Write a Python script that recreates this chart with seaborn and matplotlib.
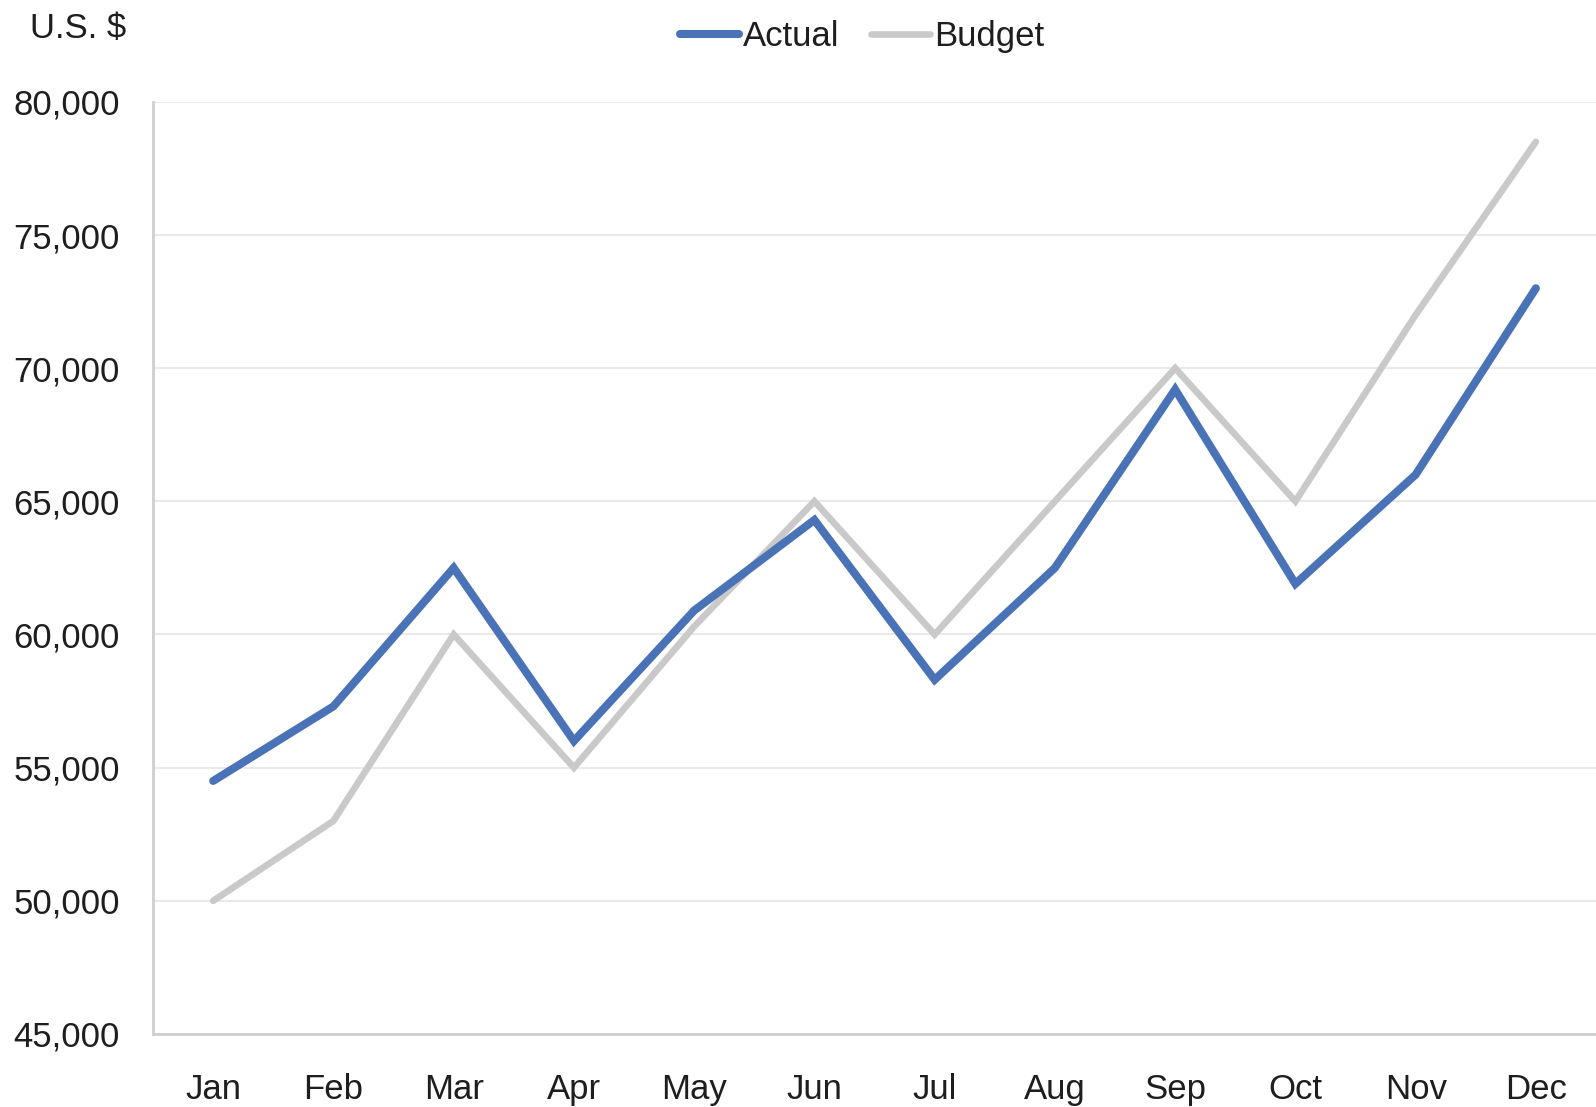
import matplotlib
matplotlib.use("Agg")
import matplotlib.pyplot as plt
import seaborn as sns
import pandas as pd
from matplotlib.ticker import FuncFormatter
from matplotlib.lines import Line2D

months = ["Jan", "Feb", "Mar", "Apr", "May", "Jun", "Jul", "Aug", "Sep", "Oct", "Nov", "Dec"]
actual = [54500, 57300, 62500, 56000, 60900, 64300, 58300, 62500, 69200, 61900, 66000, 73000]
budget = [50000, 53000, 60000, 55000, 60300, 65000, 60000, 65000, 70000, 65000, 72000, 78500]
series_names = ["Actual", "Budget"]
y_ticks = [45000, 50000, 55000, 60000, 65000, 70000, 75000, 80000]

sns.set_theme(style="white")
plt.rcParams["font.family"] = ["Liberation Sans", "DejaVu Sans"]

df = pd.DataFrame({
    "Month": months * 2,
    "x": list(range(len(months))) * 2,
    "Value": actual + budget,
    "Series": [series_names[0]] * len(months) + [series_names[1]] * len(months),
})

colors = {"Actual": "#4a73b7", "Budget": "#c9c9c9"}
widths = {"Actual": 5.8, "Budget": 4.8}

fig = plt.figure(figsize=(15.96, 11.07), dpi=100)
ax = fig.add_axes([0.0959, 0.066, 0.9041, 0.842])

# draw Budget first so Actual sits on top
for name in ["Budget", "Actual"]:
    sub = df[df["Series"] == name]
    sns.lineplot(data=sub, x="x", y="Value", color=colors[name], linewidth=widths[name],
                 ax=ax, legend=False, solid_capstyle="round", solid_joinstyle="miter")

ax.set_xlim(-0.5, len(months) - 0.5)
ax.set_ylim(45000, 80000)
ax.set_xticks(range(len(months)))
ax.set_xticklabels(months)
ax.set_yticks(y_ticks)
ax.yaxis.set_major_formatter(FuncFormatter(lambda v, p: f"{int(v):,}"))
ax.set_xlabel("")
ax.set_ylabel("")

ax.grid(axis="y", color="#e9e9e9", linewidth=1.5)
ax.set_axisbelow(True)
for s in ["top", "right"]:
    ax.spines[s].set_visible(False)
for s in ["left", "bottom"]:
    ax.spines[s].set_color("#cfcfcf")
    ax.spines[s].set_linewidth(2.0)

ax.tick_params(axis="both", length=0, labelsize=25, colors="#1e1e1e")
ax.tick_params(axis="x", pad=28)
ax.tick_params(axis="y", pad=24)

handles = [Line2D([0], [0], color=colors[n], linewidth=widths[n]) for n in series_names]
fig.legend(handles, series_names, loc="center", bbox_to_anchor=(0.54, 0.967), ncol=2,
           frameon=False, fontsize=25, handlelength=1.7, handletextpad=0.12,
           columnspacing=0.9, labelcolor="#1e1e1e")

fig.text(0.019, 0.974, "U.S. $", fontsize=25, color="#1e1e1e", ha="left", va="center")

fig.savefig("out.png", dpi=100)
